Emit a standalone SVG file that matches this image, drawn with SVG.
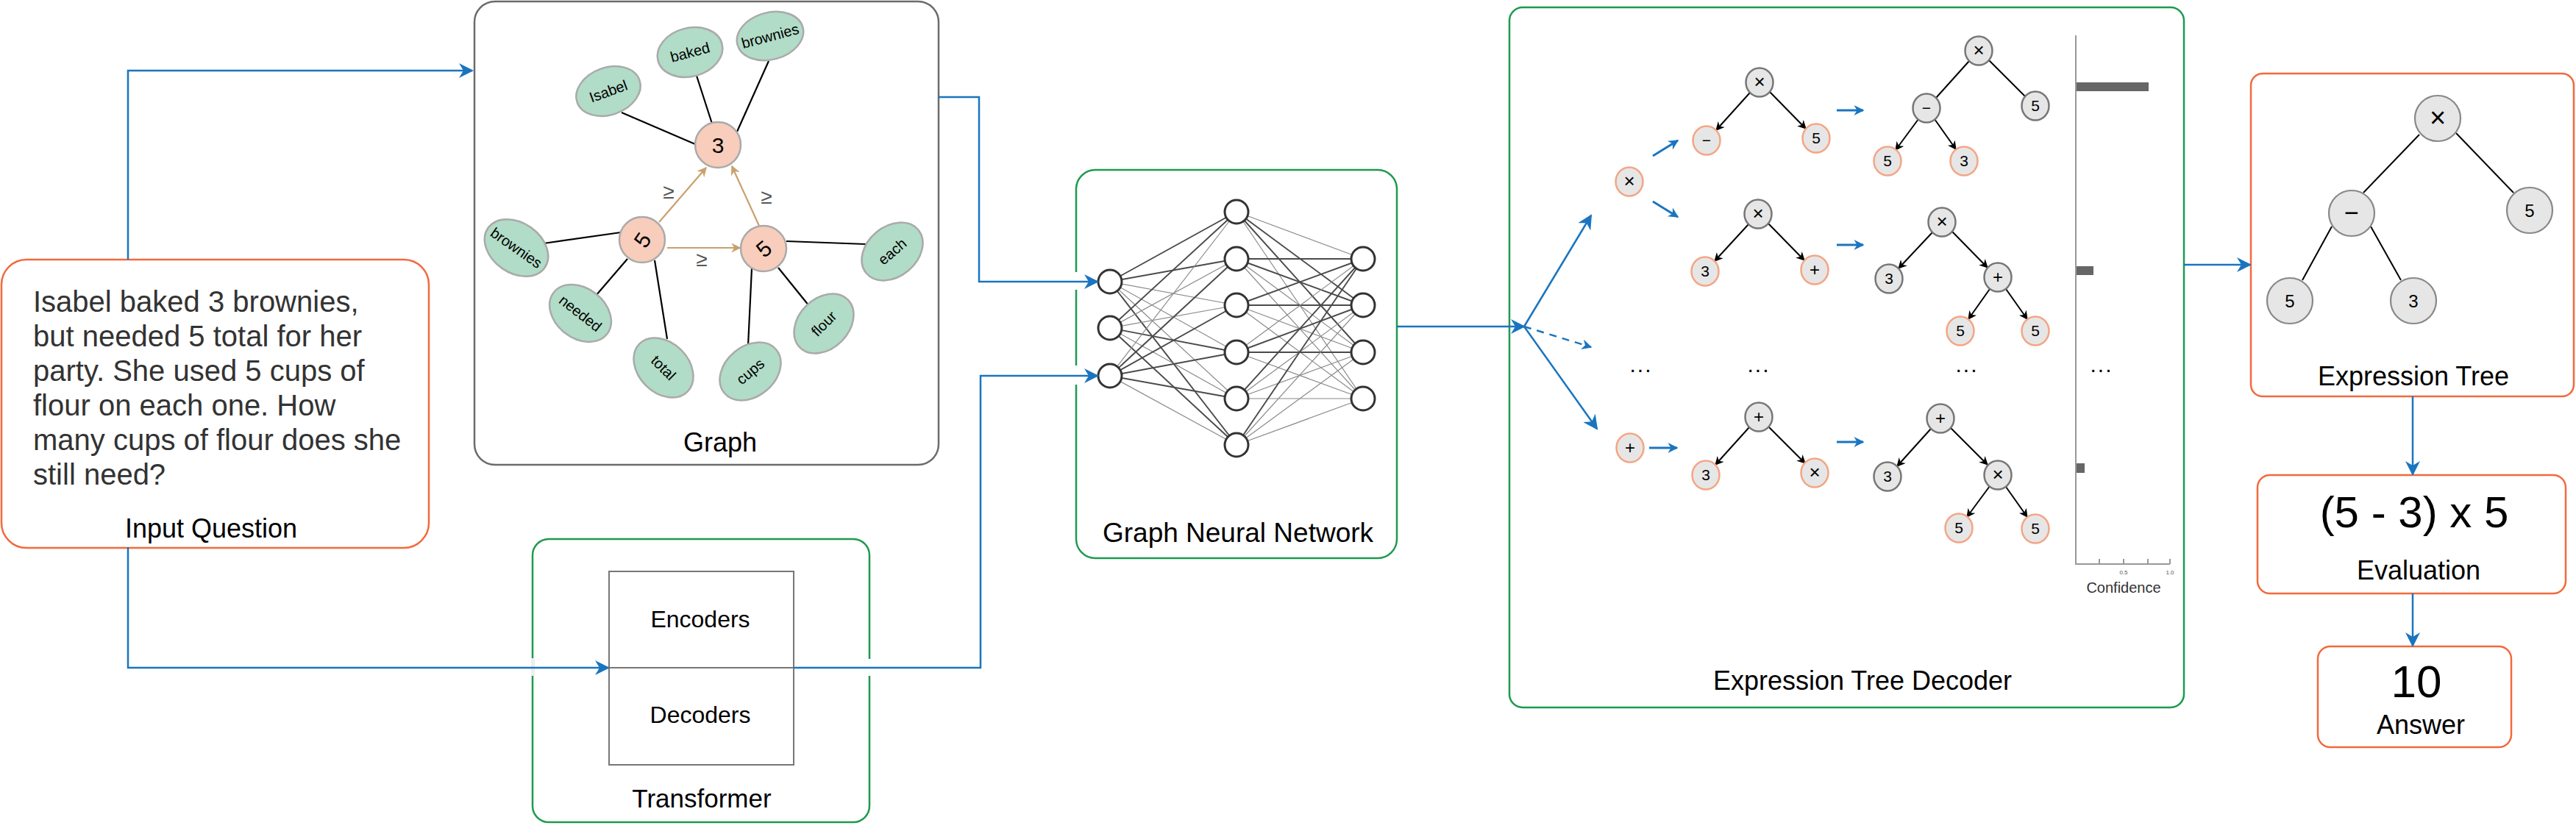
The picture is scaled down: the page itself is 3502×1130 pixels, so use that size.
<svg xmlns="http://www.w3.org/2000/svg" width="3502" height="1130" viewBox="0 0 3502 1130">
<defs>
<style>
text{font-family:"Liberation Sans",Arial,sans-serif;}
.box-o{fill:#fff;stroke:#f26a3c;stroke-width:2.5;}
.box-g{fill:#fff;stroke:#1e9a4f;stroke-width:2.5;}
.box-k{fill:#fff;stroke:#6b6b6b;stroke-width:2.5;}
.blue{fill:none;stroke:#1a75c0;stroke-width:2.5;}
.bsm{fill:none;stroke:#1a75c0;stroke-width:3;}
.lbl{font-size:36px;fill:#000;text-anchor:middle;}
.q{font-size:40px;fill:#333;}
.ell{fill:#b1dcc7;stroke:#aaaaaa;stroke-width:2.5;}
.et{font-size:20px;fill:#000;text-anchor:middle;}
.num{fill:#f8cdbb;stroke:#aaaaaa;stroke-width:2.5;}
.ge{stroke:#000;stroke-width:2.2;fill:none;}
.tan{stroke:#c9a06c;stroke-width:2.2;fill:none;}
.ge-lbl{font-size:28px;fill:#555;text-anchor:middle;}
.nd{stroke:#4a4a4a;stroke-width:1.9;}
.nl{stroke:#8a8a8a;stroke-width:1.2;}
.nn{fill:#fff;stroke:#333;stroke-width:3;}
.dn-o{fill:#e6e6e6;stroke:#f4a584;stroke-width:2.5;}
.dn-g{fill:#e6e6e6;stroke:#777;stroke-width:2.5;}
.dt{font-size:21px;fill:#000;text-anchor:middle;}
.te{stroke:#000;stroke-width:2;fill:none;}
.tn{fill:#e6e6e6;stroke:#888;stroke-width:2.2;}
.tt{font-size:24px;fill:#000;text-anchor:middle;}
.dots{font-size:30px;fill:#000;text-anchor:middle;letter-spacing:2px;}
.bar{fill:#666;}
.axis{stroke:#999;stroke-width:2;fill:none;}
</style>
<marker id="ab" viewBox="0 0 10 10" refX="9" refY="5" markerWidth="20" markerHeight="20" markerUnits="userSpaceOnUse" orient="auto"><path d="M0,0 L10,5 L0,10 L3,5 z" fill="#1a75c0"/></marker>
<marker id="abs" viewBox="0 0 10 10" refX="9" refY="5" markerWidth="14" markerHeight="14" markerUnits="userSpaceOnUse" orient="auto"><path d="M0,0 L10,5 L0,10 L3,5 z" fill="#1a75c0"/></marker>
<marker id="ak" viewBox="0 0 10 10" refX="9" refY="5" markerWidth="12" markerHeight="12" markerUnits="userSpaceOnUse" orient="auto"><path d="M0,0 L10,5 L0,10 L3,5 z" fill="#000"/></marker>
<marker id="at" viewBox="0 0 10 10" refX="9" refY="5" markerWidth="13" markerHeight="13" markerUnits="userSpaceOnUse" orient="auto"><path d="M0,0 L10,5 L0,10 L3,5 z" fill="#c9a06c"/></marker>
</defs>
<rect x="0" y="0" width="3502" height="1130" fill="#fff"/>

<!-- Input question -->
<g id="input-question">
<rect class="box-o" x="2" y="353" width="581" height="392" rx="34"/>
<text class="q" x="45" y="424">Isabel baked 3 brownies,</text>
<text class="q" x="45" y="471">but needed 5 total for her</text>
<text class="q" x="45" y="518">party. She used 5 cups of</text>
<text class="q" x="45" y="565">flour on each one. How</text>
<text class="q" x="45" y="612">many cups of flour does she</text>
<text class="q" x="45" y="659">still need?</text>
<text class="lbl" x="287" y="731" style="font-size:36px">Input Question</text>
</g>

<!-- Graph -->
<g id="graph">
<rect class="box-k" x="645" y="2" width="631" height="630" rx="28"/>
<g id="graph-edges">
<line class="ge" x1="845" y1="153" x2="945" y2="196"/>
<line class="ge" x1="947" y1="103" x2="968" y2="168"/>
<line class="ge" x1="1045" y1="83" x2="1002" y2="179"/>
<line class="ge" x1="844" y1="316" x2="739" y2="331"/>
<line class="ge" x1="853" y1="352" x2="810" y2="402"/>
<line class="ge" x1="890" y1="354" x2="907" y2="461"/>
<line class="ge" x1="1069" y1="328" x2="1177" y2="332"/>
<line class="ge" x1="1058" y1="364" x2="1100" y2="416"/>
<line class="ge" x1="1022" y1="365" x2="1017" y2="470"/>
<line class="tan" x1="896" y1="302" x2="960" y2="228" marker-end="url(#at)"/>
<line class="tan" x1="1032" y1="307" x2="995" y2="226" marker-end="url(#at)"/>
<line class="tan" x1="907" y1="337" x2="1006" y2="337" marker-end="url(#at)"/>
<text class="ge-lbl" x="909" y="270">≥</text>
<text class="ge-lbl" x="1042" y="277">≥</text>
<text class="ge-lbl" x="954" y="362">≥</text>
</g>
<g id="g-isabel"><ellipse class="ell" cx="827" cy="124" rx="45" ry="32" transform="rotate(-20 827 124)"/><text class="et" x="827" y="131" transform="rotate(-20 827 124)">Isabel</text></g>
<g id="g-baked"><ellipse class="ell" cx="938" cy="71" rx="45" ry="33" transform="rotate(-15 938 71)"/><text class="et" x="938" y="78" transform="rotate(-15 938 71)">baked</text></g>
<g id="g-brownies1"><ellipse class="ell" cx="1047" cy="49" rx="46" ry="32" transform="rotate(-15 1047 49)"/><text class="et" x="1047" y="56" transform="rotate(-15 1047 49)">brownies</text></g>
<g id="g-brownies2"><ellipse class="ell" cx="702" cy="337" rx="47" ry="34" transform="rotate(35 702 337)"/><text class="et" x="702" y="344" transform="rotate(35 702 337)">brownies</text></g>
<g id="g-needed"><ellipse class="ell" cx="789" cy="426" rx="46" ry="34" transform="rotate(38 789 426)"/><text class="et" x="789" y="433" transform="rotate(38 789 426)">needed</text></g>
<g id="g-total"><ellipse class="ell" cx="902" cy="500" rx="46" ry="34" transform="rotate(45 902 500)"/><text class="et" x="902" y="507" transform="rotate(45 902 500)">total</text></g>
<g id="g-cups"><ellipse class="ell" cx="1020" cy="505" rx="46" ry="34" transform="rotate(-40 1020 505)"/><text class="et" x="1020" y="512" transform="rotate(-40 1020 505)">cups</text></g>
<g id="g-flour"><ellipse class="ell" cx="1120" cy="440" rx="46" ry="34" transform="rotate(-45 1120 440)"/><text class="et" x="1120" y="447" transform="rotate(-45 1120 440)">flour</text></g>
<g id="g-each"><ellipse class="ell" cx="1213" cy="342" rx="46" ry="34" transform="rotate(-40 1213 342)"/><text class="et" x="1213" y="349" transform="rotate(-40 1213 342)">each</text></g>
<g id="g-3"><circle class="num" cx="976" cy="197" r="31"/><text x="976" y="208" style="font-size:30px;text-anchor:middle">3</text></g>
<g id="g-5a"><circle class="num" cx="873" cy="326" r="31"/><text x="873" y="337" style="font-size:30px;text-anchor:middle" transform="rotate(-55 873 326)">5</text></g>
<g id="g-5b"><circle class="num" cx="1038" cy="338" r="31"/><text x="1038" y="349" style="font-size:30px;text-anchor:middle" transform="rotate(-40 1038 338)">5</text></g>
<text class="lbl" x="979" y="614">Graph</text>
</g>

<!-- Transformer -->
<g id="transformer">
<rect class="box-g" x="724" y="733" width="458" height="385" rx="22"/>
<rect x="722" y="895" width="5" height="24" fill="#eeeeee"/>
<rect x="1179" y="896" width="6" height="23" fill="#fff"/>
<rect x="828" y="777" width="251" height="263" fill="#fff" stroke="#777" stroke-width="2"/>
<line x1="828" y1="908" x2="1079" y2="908" stroke="#777" stroke-width="2"/>
<text x="952" y="853" style="font-size:32px;text-anchor:middle;fill:#000">Encoders</text>
<text x="952" y="983" style="font-size:32px;text-anchor:middle;fill:#000">Decoders</text>
<text class="lbl" x="954" y="1098" style="font-size:35px">Transformer</text>
</g>

<!-- GNN -->
<g id="gnn">
<rect class="box-g" x="1463" y="231" width="436" height="528" rx="26"/>
<rect x="1459" y="370" width="8" height="24" fill="#fff"/>
<rect x="1459" y="497" width="8" height="26" fill="#fff"/>
<g id="gnn-edges">
<line class="nd" x1="1509" y1="383" x2="1681" y2="288"/>
<line class="nd" x1="1509" y1="383" x2="1681" y2="352"/>
<line class="nl" x1="1509" y1="383" x2="1681" y2="415"/>
<line class="nl" x1="1509" y1="383" x2="1681" y2="479"/>
<line class="nl" x1="1509" y1="383" x2="1681" y2="542"/>
<line class="nd" x1="1509" y1="383" x2="1681" y2="605"/>
<line class="nd" x1="1509" y1="446" x2="1681" y2="288"/>
<line class="nl" x1="1509" y1="446" x2="1681" y2="352"/>
<line class="nl" x1="1509" y1="446" x2="1681" y2="415"/>
<line class="nd" x1="1509" y1="446" x2="1681" y2="479"/>
<line class="nl" x1="1509" y1="446" x2="1681" y2="542"/>
<line class="nd" x1="1509" y1="446" x2="1681" y2="605"/>
<line class="nl" x1="1509" y1="511" x2="1681" y2="288"/>
<line class="nd" x1="1509" y1="511" x2="1681" y2="352"/>
<line class="nd" x1="1509" y1="511" x2="1681" y2="415"/>
<line class="nd" x1="1509" y1="511" x2="1681" y2="479"/>
<line class="nd" x1="1509" y1="511" x2="1681" y2="542"/>
<line class="nl" x1="1509" y1="511" x2="1681" y2="605"/>
<line class="nl" x1="1681" y1="288" x2="1853" y2="352"/>
<line class="nd" x1="1681" y1="288" x2="1853" y2="415"/>
<line class="nd" x1="1681" y1="288" x2="1853" y2="479"/>
<line class="nl" x1="1681" y1="288" x2="1853" y2="542"/>
<line class="nd" x1="1681" y1="352" x2="1853" y2="352"/>
<line class="nd" x1="1681" y1="352" x2="1853" y2="415"/>
<line class="nl" x1="1681" y1="352" x2="1853" y2="479"/>
<line class="nl" x1="1681" y1="352" x2="1853" y2="542"/>
<line class="nd" x1="1681" y1="415" x2="1853" y2="352"/>
<line class="nd" x1="1681" y1="415" x2="1853" y2="415"/>
<line class="nl" x1="1681" y1="415" x2="1853" y2="479"/>
<line class="nl" x1="1681" y1="415" x2="1853" y2="542"/>
<line class="nl" x1="1681" y1="479" x2="1853" y2="352"/>
<line class="nd" x1="1681" y1="479" x2="1853" y2="415"/>
<line class="nd" x1="1681" y1="479" x2="1853" y2="479"/>
<line class="nl" x1="1681" y1="479" x2="1853" y2="542"/>
<line class="nd" x1="1681" y1="542" x2="1853" y2="352"/>
<line class="nl" x1="1681" y1="542" x2="1853" y2="415"/>
<line class="nl" x1="1681" y1="542" x2="1853" y2="479"/>
<line class="nl" x1="1681" y1="542" x2="1853" y2="542"/>
<line class="nd" x1="1681" y1="605" x2="1853" y2="352"/>
<line class="nl" x1="1681" y1="605" x2="1853" y2="415"/>
<line class="nl" x1="1681" y1="605" x2="1853" y2="479"/>
<line class="nl" x1="1681" y1="605" x2="1853" y2="542"/>
</g>
<circle class="nn" cx="1509" cy="383" r="16"/>
<circle class="nn" cx="1509" cy="446" r="16"/>
<circle class="nn" cx="1509" cy="511" r="16"/>
<circle class="nn" cx="1681" cy="288" r="16"/>
<circle class="nn" cx="1681" cy="352" r="16"/>
<circle class="nn" cx="1681" cy="415" r="16"/>
<circle class="nn" cx="1681" cy="479" r="16"/>
<circle class="nn" cx="1681" cy="542" r="16"/>
<circle class="nn" cx="1681" cy="605" r="16"/>
<circle class="nn" cx="1853" cy="352" r="16"/>
<circle class="nn" cx="1853" cy="415" r="16"/>
<circle class="nn" cx="1853" cy="479" r="16"/>
<circle class="nn" cx="1853" cy="542" r="16"/>
<text class="lbl" x="1683" y="737" style="font-size:37px">Graph Neural Network</text>
</g>

<!-- Expression tree decoder -->
<g id="decoder">
<rect class="box-g" x="2052" y="10" width="917" height="952" rx="18"/>
<g id="decoder-arrows">
<line class="blue" x1="2072" y1="444" x2="2163" y2="293" marker-end="url(#ab)"/>
<line class="blue" x1="2072" y1="444" x2="2163" y2="472" stroke-dasharray="10,8" marker-end="url(#abs)"/>
<line class="blue" x1="2072" y1="444" x2="2171" y2="583" marker-end="url(#ab)"/>
<line class="bsm" x1="2247" y1="212" x2="2281" y2="191" marker-end="url(#abs)"/>
<line class="bsm" x1="2247" y1="274" x2="2281" y2="295" marker-end="url(#abs)"/>
<line class="bsm" x1="2497" y1="150" x2="2533" y2="150" marker-end="url(#abs)"/>
<line class="bsm" x1="2497" y1="333" x2="2533" y2="333" marker-end="url(#abs)"/>
<line class="bsm" x1="2242" y1="609" x2="2280" y2="609" marker-end="url(#abs)"/>
<line class="bsm" x1="2497" y1="601" x2="2533" y2="601" marker-end="url(#abs)"/>
</g>
<g id="tree-edges">
<line class="te" x1="2379" y1="126" x2="2333" y2="177" marker-end="url(#ak)"/>
<line class="te" x1="2406" y1="125" x2="2455" y2="175" marker-end="url(#ak)"/>
<line class="te" x1="2677" y1="83" x2="2632" y2="133"/>
<line class="te" x1="2704" y1="82" x2="2753" y2="131"/>
<line class="te" x1="2608" y1="162" x2="2577" y2="204" marker-end="url(#ak)"/>
<line class="te" x1="2630" y1="162" x2="2659" y2="203" marker-end="url(#ak)"/>
<line class="te" x1="2377" y1="305" x2="2331" y2="355" marker-end="url(#ak)"/>
<line class="te" x1="2404" y1="304" x2="2453" y2="354" marker-end="url(#ak)"/>
<line class="te" x1="2627" y1="316" x2="2581" y2="365" marker-end="url(#ak)"/>
<line class="te" x1="2654" y1="315" x2="2702" y2="364" marker-end="url(#ak)"/>
<line class="te" x1="2705" y1="393" x2="2676" y2="434" marker-end="url(#ak)"/>
<line class="te" x1="2727" y1="393" x2="2756" y2="434" marker-end="url(#ak)"/>
<line class="te" x1="2378" y1="581" x2="2332" y2="632" marker-end="url(#ak)"/>
<line class="te" x1="2404" y1="580" x2="2454" y2="630" marker-end="url(#ak)"/>
<line class="te" x1="2625" y1="583" x2="2579" y2="634" marker-end="url(#ak)"/>
<line class="te" x1="2652" y1="582" x2="2702" y2="632" marker-end="url(#ak)"/>
<line class="te" x1="2705" y1="661" x2="2674" y2="703" marker-end="url(#ak)"/>
<line class="te" x1="2727" y1="662" x2="2756" y2="703" marker-end="url(#ak)"/>
</g>
<g id="d-root1"><ellipse class="dn-o" cx="2215" cy="247" rx="18.5" ry="19.5"/><text class="dt" x="2215" y="255" style="font-size:26px">×</text></g>
<g id="d-a"><ellipse class="dn-g" cx="2392" cy="112" rx="18.5" ry="19.5"/><text class="dt" x="2392" y="120" style="font-size:26px">×</text>
<ellipse class="dn-o" cx="2320" cy="191" rx="18.5" ry="19.5"/><text class="dt" x="2320" y="198">−</text>
<ellipse class="dn-o" cx="2469" cy="188" rx="18.5" ry="19.5"/><text class="dt" x="2469" y="195">5</text></g>
<g id="d-a2"><ellipse class="dn-g" cx="2690" cy="69" rx="18.5" ry="19.5"/><text class="dt" x="2690" y="77" style="font-size:26px">×</text>
<ellipse class="dn-g" cx="2619" cy="147" rx="18.5" ry="19.5"/><text class="dt" x="2619" y="154">−</text>
<ellipse class="dn-g" cx="2767" cy="144" rx="18.5" ry="19.5"/><text class="dt" x="2767" y="151">5</text>
<ellipse class="dn-o" cx="2566" cy="219" rx="18.5" ry="19.5"/><text class="dt" x="2566" y="226">5</text>
<ellipse class="dn-o" cx="2670" cy="219" rx="18.5" ry="19.5"/><text class="dt" x="2670" y="226">3</text></g>
<g id="d-b"><ellipse class="dn-g" cx="2390" cy="291" rx="18.5" ry="19.5"/><text class="dt" x="2390" y="299" style="font-size:26px">×</text>
<ellipse class="dn-o" cx="2318" cy="369" rx="18.5" ry="19.5"/><text class="dt" x="2318" y="376">3</text>
<ellipse class="dn-o" cx="2467" cy="367" rx="18.5" ry="19.5"/><text class="dt" x="2467" y="375" style="font-size:24px">+</text></g>
<g id="d-b2"><ellipse class="dn-g" cx="2640" cy="302" rx="18.5" ry="19.5"/><text class="dt" x="2640" y="310" style="font-size:26px">×</text>
<ellipse class="dn-g" cx="2568" cy="379" rx="18.5" ry="19.5"/><text class="dt" x="2568" y="386">3</text>
<ellipse class="dn-g" cx="2716" cy="377" rx="18.5" ry="19.5"/><text class="dt" x="2716" y="385" style="font-size:24px">+</text>
<ellipse class="dn-o" cx="2665" cy="450" rx="18.5" ry="19.5"/><text class="dt" x="2665" y="457">5</text>
<ellipse class="dn-o" cx="2767" cy="450" rx="18.5" ry="19.5"/><text class="dt" x="2767" y="457">5</text></g>
<g id="d-dots">
<text class="dots" x="2231" y="506">...</text>
<text class="dots" x="2391" y="506">...</text>
<text class="dots" x="2674" y="506">...</text>
<text class="dots" x="2857" y="506">...</text>
</g>
<g id="d-root3"><ellipse class="dn-o" cx="2216" cy="609" rx="18.5" ry="19.5"/><text class="dt" x="2216" y="617" style="font-size:24px">+</text></g>
<g id="d-c"><ellipse class="dn-g" cx="2391" cy="567" rx="18.5" ry="19.5"/><text class="dt" x="2391" y="575" style="font-size:24px">+</text>
<ellipse class="dn-o" cx="2319" cy="646" rx="18.5" ry="19.5"/><text class="dt" x="2319" y="653">3</text>
<ellipse class="dn-o" cx="2467" cy="643" rx="18.5" ry="19.5"/><text class="dt" x="2467" y="651" style="font-size:26px">×</text></g>
<g id="d-c2"><ellipse class="dn-g" cx="2638" cy="569" rx="18.5" ry="19.5"/><text class="dt" x="2638" y="577" style="font-size:24px">+</text>
<ellipse class="dn-g" cx="2566" cy="648" rx="18.5" ry="19.5"/><text class="dt" x="2566" y="655">3</text>
<ellipse class="dn-g" cx="2716" cy="646" rx="18.5" ry="19.5"/><text class="dt" x="2716" y="654" style="font-size:26px">×</text>
<ellipse class="dn-o" cx="2663" cy="718" rx="18.5" ry="19.5"/><text class="dt" x="2663" y="725">5</text>
<ellipse class="dn-o" cx="2767" cy="719" rx="18.5" ry="19.5"/><text class="dt" x="2767" y="726">5</text></g>
<g id="confidence">
<rect class="bar" x="2822" y="112" width="99" height="12"/>
<rect class="bar" x="2822" y="362" width="24" height="12"/>
<rect class="bar" x="2822" y="630" width="12" height="13"/>
<polyline class="axis" points="2822,48 2822,767 2950,767"/>
<line class="axis" x1="2854" y1="760" x2="2854" y2="767" stroke-width="1"/>
<line class="axis" x1="2887" y1="760" x2="2887" y2="767" stroke-width="1"/>
<line class="axis" x1="2920" y1="760" x2="2920" y2="767" stroke-width="1"/>
<line class="axis" x1="2950" y1="760" x2="2950" y2="767" stroke-width="1"/>
<text x="2887" y="781" style="font-size:8px;fill:#555;text-anchor:middle">0.5</text>
<text x="2950" y="781" style="font-size:8px;fill:#555;text-anchor:middle">1.0</text>
<text x="2887" y="806" style="font-size:20px;fill:#333;text-anchor:middle">Confidence</text>
</g>
<text class="lbl" x="2532" y="938">Expression Tree Decoder</text>
</g>

<!-- Expression tree -->
<g id="expression-tree">
<rect class="box-o" x="3060" y="100" width="439" height="439" rx="16"/>
<line class="te" x1="3289" y1="183" x2="3213" y2="262"/>
<line class="te" x1="3339" y1="181" x2="3417" y2="262"/>
<line class="te" x1="3170" y1="308" x2="3130" y2="381"/>
<line class="te" x1="3223" y1="308" x2="3264" y2="381"/>
<g id="t-mul"><circle class="tn" cx="3314" cy="161" r="31"/><text class="tt" x="3314" y="173" style="font-size:38px">×</text></g>
<g id="t-sub"><circle class="tn" cx="3197" cy="290" r="31"/><text class="tt" x="3197" y="301" style="font-size:34px">−</text></g>
<g id="t-5r"><circle class="tn" cx="3439" cy="286" r="31"/><text class="tt" x="3439" y="295">5</text></g>
<g id="t-5l"><circle class="tn" cx="3113" cy="409" r="31"/><text class="tt" x="3113" y="418">5</text></g>
<g id="t-3"><circle class="tn" cx="3281" cy="409" r="31"/><text class="tt" x="3281" y="418">3</text></g>
<text class="lbl" x="3281" y="524">Expression Tree</text>
</g>

<!-- Evaluation -->
<g id="evaluation">
<rect class="box-o" x="3069" y="646" width="419" height="161" rx="17"/>
<text class="lbl" x="3282" y="717" style="font-size:60px">(5 - 3) x 5</text>
<text class="lbl" x="3288" y="788">Evaluation</text>
</g>

<!-- Answer -->
<g id="answer">
<rect class="box-o" x="3151" y="879" width="263" height="137" rx="17"/>
<text class="lbl" x="3285" y="948" style="font-size:62px">10</text>
<text class="lbl" x="3291" y="998">Answer</text>
</g>

<!-- main connectors (on top) -->
<g id="connectors">
<polyline class="blue" points="174,353 174,96 642,96" marker-end="url(#ab)"/>
<polyline class="blue" points="174,744 174,908 827,908" marker-end="url(#ab)"/>
<polyline class="blue" points="1276,132 1331,132 1331,383 1492,383" marker-end="url(#ab)"/>
<polyline class="blue" points="1079,908 1333,908 1333,511 1492,511" marker-end="url(#ab)"/>
<polyline class="blue" points="1899,444 2072,444" marker-end="url(#ab)"/>
<line class="blue" x1="2969" y1="360" x2="3059" y2="360" marker-end="url(#ab)"/>
<line class="blue" x1="3280" y1="539" x2="3280" y2="645" marker-end="url(#ab)"/>
<line class="blue" x1="3280" y1="807" x2="3280" y2="878" marker-end="url(#ab)"/>
</g>
</svg>
